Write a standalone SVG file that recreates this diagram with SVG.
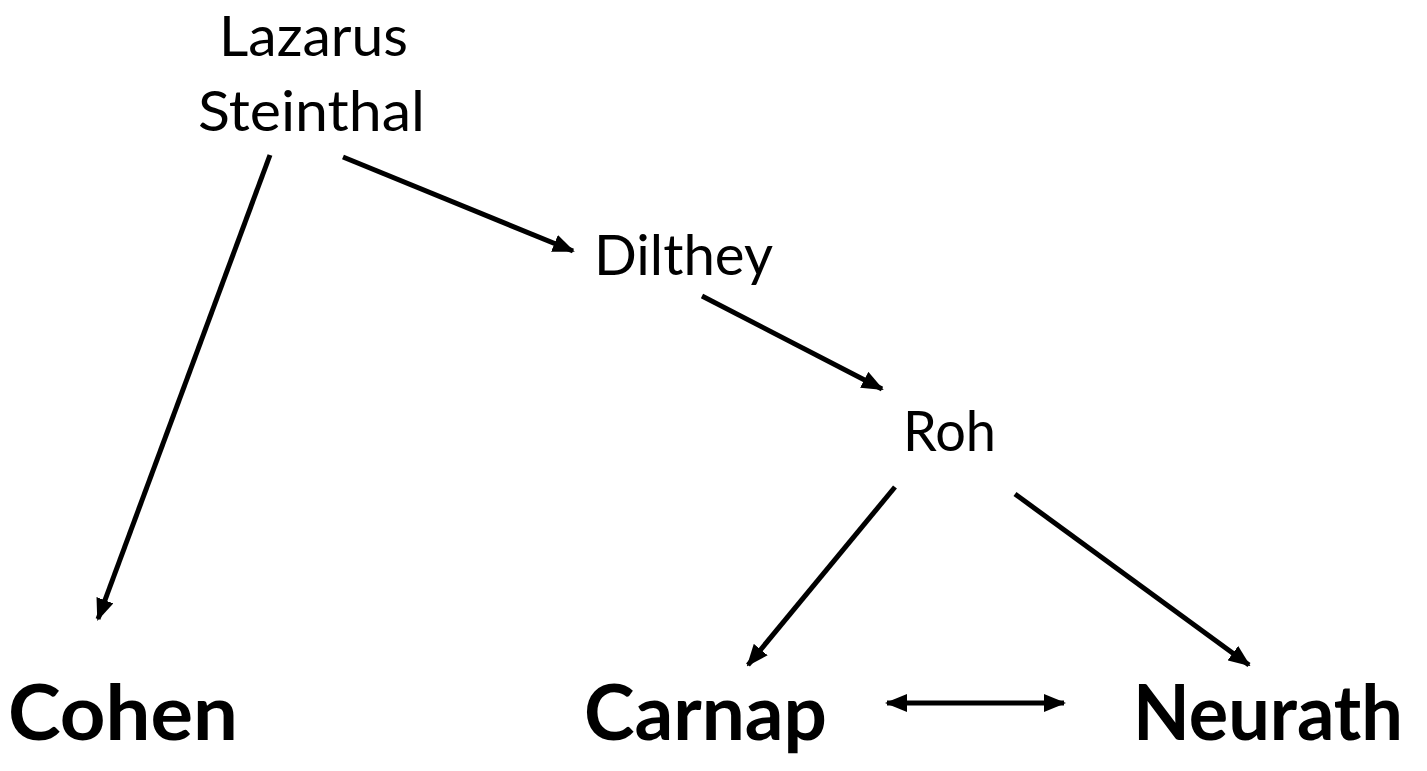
<svg xmlns="http://www.w3.org/2000/svg" width="1427" height="771" viewBox="0 0 1427 771">
  <style>
    .name { font-family: Lato, "Open Sans", "Liberation Sans", sans-serif; fill: #000; }
    .minor { font-size: 56px; font-weight: 400; }
    .major { font-size: 76px; font-weight: 700; }
    .link { stroke: #000; stroke-width: 5; fill: none; marker-end: url(#head); }
  </style>
  <defs>
    <marker id="head" viewBox="0 0 22 18" refX="20" refY="9" markerWidth="22" markerHeight="18" markerUnits="userSpaceOnUse" orient="auto-start-reverse">
      <path d="M0,0 L22,9 L0,18 Z" fill="#000"/>
    </marker>
  </defs>
  <rect width="1427" height="771" fill="#fff"/>

  <g id="connectors">
    <line class="link" x1="270" y1="155" x2="98" y2="619"/>
    <line class="link" x1="343" y1="157" x2="573" y2="251"/>
    <line class="link" x1="702" y1="296" x2="882" y2="389"/>
    <line class="link" x1="895" y1="487" x2="748" y2="665"/>
    <line class="link" x1="1015" y1="494" x2="1249" y2="665"/>
    <line class="link" x1="887" y1="703" x2="1064" y2="703" marker-start="url(#head)"/>
  </g>

  <g id="lazarus-steinthal">
    <text class="name minor" x="219" y="56" textLength="189" lengthAdjust="spacingAndGlyphs">Lazarus</text>
    <text class="name minor" x="198" y="131" textLength="227" lengthAdjust="spacingAndGlyphs">Steinthal</text>
  </g>
  <g id="dilthey">
    <text class="name minor" x="594" y="275" textLength="179" lengthAdjust="spacingAndGlyphs">Dilthey</text>
  </g>
  <g id="roh">
    <text class="name minor" x="903" y="451" textLength="93" lengthAdjust="spacingAndGlyphs">Roh</text>
  </g>
  <g id="cohen">
    <text class="name major" x="8" y="740" textLength="230" lengthAdjust="spacingAndGlyphs">Cohen</text>
  </g>
  <g id="carnap">
    <text class="name major" x="584" y="740" textLength="243" lengthAdjust="spacingAndGlyphs">Carnap</text>
  </g>
  <g id="neurath">
    <text class="name major" x="1133" y="740" textLength="270" lengthAdjust="spacingAndGlyphs">Neurath</text>
  </g>
</svg>
